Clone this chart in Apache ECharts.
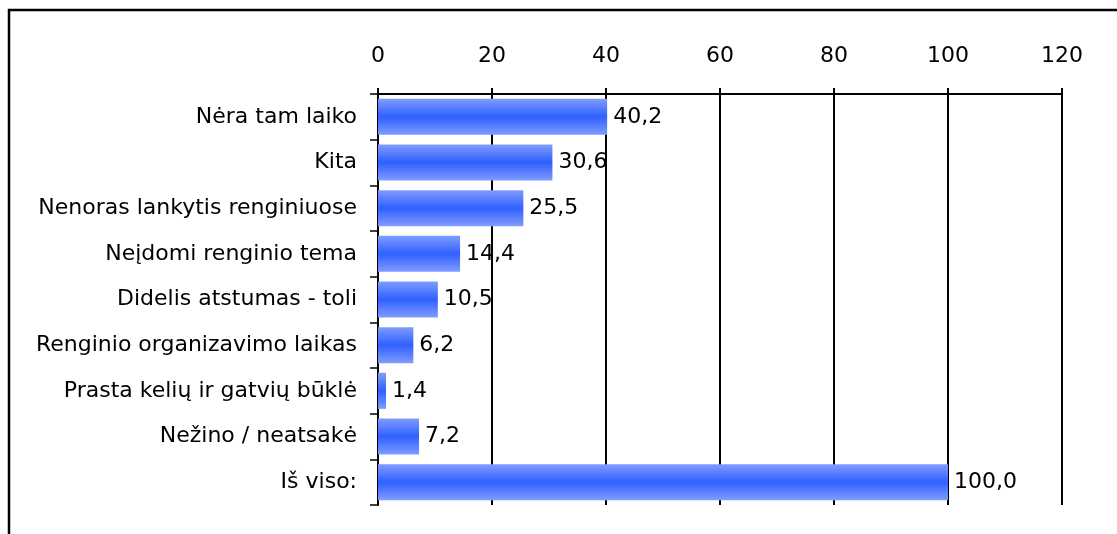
<!DOCTYPE html>
<html>
<head>
<meta charset="utf-8">
<script src="https://cdn.jsdelivr.net/npm/echarts@6/dist/echarts.min.js"></script>
<style>
  html, body { margin: 0; padding: 0; background: #fff; }
  #main { width: 1117px; height: 534px; }
</style>
</head>
<body>
<div id="main"></div>
<script>
  // categories, top to bottom
  var categories = [
    'Nėra tam laiko',
    'Kita',
    'Nenoras lankytis renginiuose',
    'Neįdomi renginio tema',
    'Didelis atstumas - toli',
    'Renginio organizavimo laikas',
    'Prasta kelių ir gatvių būklė',
    'Nežino / neatsakė',
    'Iš viso:'
  ];
  var values = [40.2, 30.6, 25.5, 14.4, 10.5, 6.2, 1.4, 7.2, 100.0];
  var axisMin = 0, axisMax = 120, axisStep = 20;

  var font = 'DejaVu Sans, Arial, sans-serif';
  var chartDom = document.getElementById('main');
  var myChart = echarts.init(chartDom);

  var barColor = new echarts.graphic.LinearGradient(0, 0, 0, 1, [
    { offset: 0, color: '#809cff' },
    { offset: 0.5, color: '#2f60ff' },
    { offset: 1, color: '#809cff' }
  ]);

  var option = {
    animation: false,
    backgroundColor: '#fff',
    graphic: [{
      type: 'rect',
      shape: { x: 9, y: 10, width: 1300, height: 700 },
      style: { fill: 'none', stroke: '#000', lineWidth: 2.5 },
      silent: true
    }],
    grid: { left: 378, top: 94, right: 55, bottom: 29 },
    xAxis: {
      type: 'value',
      position: 'top',
      min: axisMin,
      max: axisMax,
      interval: axisStep,
      axisLine: { show: true, lineStyle: { color: '#000', width: 2 } },
      axisTick: { show: true, length: 6, lineStyle: { color: '#000', width: 2 } },
      axisLabel: { color: '#000', fontSize: 22, fontFamily: font, margin: 27 },
      splitLine: { show: true, lineStyle: { color: '#000', width: 2 } }
    },
    yAxis: {
      type: 'category',
      inverse: true,
      data: categories,
      axisLine: { show: true, lineStyle: { color: '#000', width: 2 } },
      axisTick: { show: true, length: 8, lineStyle: { color: '#000', width: 1.5 } },
      axisLabel: { color: '#000', fontSize: 22, fontFamily: font, margin: 21 }
    },
    series: [{
      type: 'bar',
      data: values,
      barCategoryGap: '21%',
      itemStyle: { color: barColor },
      label: {
        show: true,
        position: 'right',
        distance: 6,
        color: '#000',
        fontSize: 22,
        fontFamily: font,
        formatter: function (p) { return p.value.toFixed(1).replace('.', ','); }
      }
    }]
  };

  myChart.setOption(option);
</script>
</body>
</html>
